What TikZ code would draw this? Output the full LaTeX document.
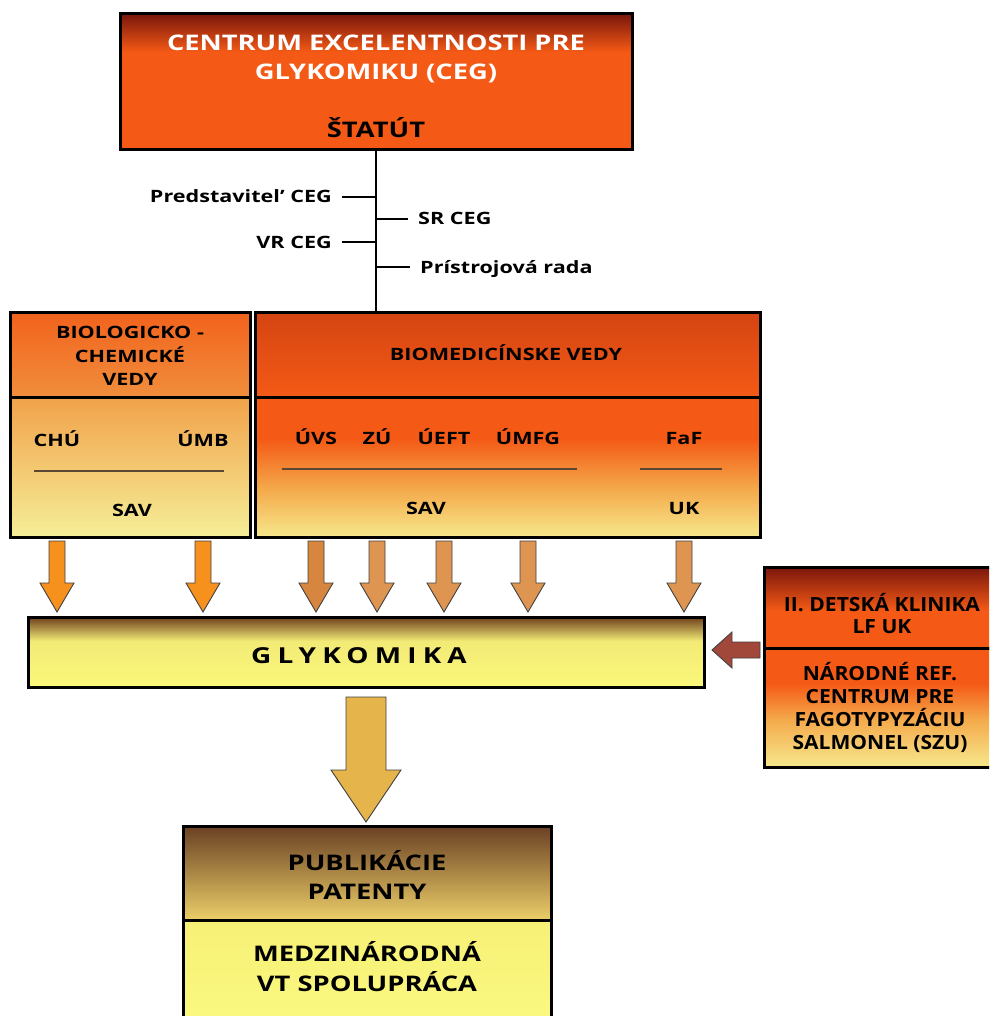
\documentclass[tikz,border=0pt]{standalone}
\usepackage{fontspec}
\setmainfont{Open Sans}[FakeStretch=1.27]
\newfontfamily\narrowfont[FakeStretch=1.08]{Open Sans}
\newfontfamily\spacedfont[FakeStretch=1.27, LetterSpace=28]{Open Sans}
\usetikzlibrary{positioning,calc}

\definecolor{cegorange}{RGB}{244,90,22}
\definecolor{cegdark}{RGB}{122,22,12}
\definecolor{biohdtop}{RGB}{242,98,28}
\definecolor{biohdbot}{RGB}{240,142,60}
\definecolor{biolotop}{RGB}{240,162,74}
\definecolor{biolobot}{RGB}{246,238,152}
\definecolor{medhdtop}{RGB}{212,68,18}
\definecolor{paleyel}{RGB}{247,232,140}
\definecolor{midorange}{RGB}{244,170,75}
\definecolor{glykbrown}{RGB}{108,62,28}
\definecolor{glykyel}{RGB}{242,234,118}
\definecolor{glykbot}{RGB}{251,248,122}
\definecolor{pubtop}{RGB}{106,64,36}
\definecolor{pubbot}{RGB}{236,206,104}
\definecolor{medztop}{RGB}{247,240,118}
\definecolor{medzbot}{RGB}{250,249,128}
\definecolor{arrbright}{RGB}{247,145,30}
\definecolor{arrtan}{RGB}{223,149,82}
\definecolor{arrdark}{RGB}{214,134,62}
\definecolor{arrred}{RGB}{162,72,58}
\definecolor{arrgold}{RGB}{229,180,75}
\definecolor{rulebrown}{RGB}{90,70,50}

\pgfdeclareverticalshading{cegshade}{100bp}{color(0bp)=(cegorange); color(61bp)=(cegorange); color(75bp)=(cegdark); color(100bp)=(cegdark)}
\pgfdeclareverticalshading{medlowshade}{100bp}{color(0bp)=(paleyel); color(25bp)=(paleyel); color(42bp)=(midorange); color(60bp)=(cegorange); color(100bp)=(cegorange)}
\pgfdeclareverticalshading{glykshade}{100bp}{color(0bp)=(glykbot); color(25bp)=(glykbot); color(58bp)=(glykyel); color(75bp)=(glykbrown); color(100bp)=(glykbrown)}
\pgfdeclareverticalshading{detshade}{100bp}{color(0bp)=(cegorange); color(48bp)=(cegorange); color(75bp)=(cegdark); color(100bp)=(cegdark)}
\pgfdeclareverticalshading{narshade}{100bp}{color(0bp)=(paleyel); color(25bp)=(paleyel); color(45bp)=(midorange); color(60bp)=(cegorange); color(100bp)=(cegorange)}

\tikzstyle{orgbox}=[rectangle, draw=black, line width=3pt, outer sep=0pt, inner sep=0pt]
\tikzstyle{pline}=[-, line width=2.5pt]
\tikzstyle{rule}=[-, line width=1.2pt, draw=rulebrown]
\tikzstyle{blockarrow}=[draw=black!75, line width=0.9pt, line join=miter]
\tikzstyle{lbl}=[font=\bfseries\fontsize{17}{20}\selectfont, text height=12pt, text depth=0pt, inner xsep=10pt, inner ysep=2pt]
\tikzstyle{paneltxt}=[font=\bfseries\fontsize{17}{23.5}\selectfont, align=center, text height=12pt, text depth=0pt, inner sep=2pt]
\tikzstyle{bigtxt}=[font=\bfseries\fontsize{21.5}{29.5}\selectfont, align=center, inner sep=2pt]
\tikzstyle{cliniktxt}=[font=\narrowfont\bfseries\fontsize{19.5}{23}\selectfont, align=center, inner sep=2pt]

\begin{document}
\begin{tikzpicture}[x=1pt, y=-1pt, node distance=0pt]
\useasboundingbox (0,0) rectangle (989,1016);
\clip (0,0) rectangle (989,1016);

% CEG and statute
\node (CEG) [orgbox, shading=cegshade, minimum width=512pt, minimum height=136pt] at (376,82) {};
\node (CEGTXT) [bigtxt, text=white] at (376,59) {CENTRUM EXCELENTNOSTI PRE\\GLYKOMIKU (CEG)};
\node (STATUT) [bigtxt, text height=15pt, text depth=0pt] at (376,130) {ŠTATÚT};

% the two fields
\node (BIOHEAD) [orgbox, top color=biohdtop, bottom color=biohdbot, minimum width=240pt, minimum height=85pt] at (130,354.5) {};
\node (BIOLOW) [orgbox, top color=biolotop, bottom color=biolobot, minimum width=240pt, minimum height=140pt, below=of BIOHEAD] {};
\node (MEDHEAD) [orgbox, top color=medhdtop, bottom color=cegorange, minimum width=504.5pt, minimum height=85pt, right=5.5pt of BIOHEAD] {};
\node (MEDLOW) [orgbox, shading=medlowshade, minimum width=504.5pt, minimum height=140pt, below=of MEDHEAD] {};

 \draw[pline] (CEG.south) -- (CEG.south |- MEDHEAD.north);

\node (PRED) [lbl, anchor=east] at (342,197) {Predstavitel’ CEG};
\node (VR) [lbl, anchor=east] at (342,242) {VR CEG};
\node (SR) [lbl, anchor=west] at (408,219) {SR CEG};
\node (PRIS) [lbl, anchor=west] at (410,267) {Prístrojová rada};
 \draw[pline] (PRED.east) -- (PRED.east -| CEG.south);
 \draw[pline] (VR.east) -- (VR.east -| CEG.south);
 \draw[pline] (SR.west) -- (SR.west -| CEG.south);
 \draw[pline] (PRIS.west) -- (PRIS.west -| CEG.south);

\node (BIOTXT) [paneltxt, text height=, text depth=] at (130,356) {BIOLOGICKO -\\CHEMICKÉ\\VEDY};
\node (MEDTXT) [paneltxt] at (506,354) {BIOMEDICÍNSKE VEDY};

\node (CHU) [paneltxt] at (57,440) {CHÚ};
\node (UMB) [paneltxt] at (203,440) {ÚMB};
\node (SAVA) [paneltxt] at (132,510) {SAV};
 \draw[rule] (34,471) -- (224,471);

\node (UVS) [paneltxt] at (316,438) {ÚVS};
\node (ZU) [paneltxt] at (377,438) {ZÚ};
\node (UEFT) [paneltxt] at (444,438) {ÚEFT};
\node (UMFG) [paneltxt] at (528,438) {ÚMFG};
\node (FAF) [paneltxt] at (684,438) {FaF};
\node (SAVB) [paneltxt] at (426,508) {SAV};
\node (UK) [paneltxt] at (684,508) {UK};
 \draw[rule] (282,469) -- (577,469);
 \draw[rule] (640,469) -- (722,469);

% glycomics
\node (GLYK) [orgbox, shading=glykshade, minimum width=676pt, minimum height=70pt] at (366,652) {};
\node (GLYKTXT) [font=\spacedfont\bfseries\fontsize{22}{26}\selectfont, text height=16pt, text depth=0pt] at (359,655) {GLYKOMIKA};

\foreach \col/\fc in {CHU/arrbright, UMB/arrbright, UVS/arrdark, ZU/arrtan, UEFT/arrtan, UMFG/arrtan, FAF/arrtan}
 \draw[blockarrow, fill=\fc] let \p1=(\col |- BIOLOW.south), \p2=(\col |- GLYK.north) in
  (\x1-8pt,\y1-4pt) -- (\x1+8pt,\y1-4pt) -- (\x1+8pt,\y2+34pt) -- (\x1+17pt,\y2+34pt)
  -- (\x1,\y2+5pt) -- (\x1-17pt,\y2+34pt) -- (\x1-8pt,\y2+34pt) -- cycle;

% clinic
\node (DETSKA) [orgbox, shading=detshade, minimum width=260pt, minimum height=81pt] at (894,607.5) {};
\node (NARODNE) [orgbox, shading=narshade, minimum width=260pt, minimum height=119pt, below=of DETSKA] {};
\node (DETTXT) [cliniktxt, font=\narrowfont\bfseries\fontsize{19.5}{22}\selectfont] at (882,614) {II. DETSKÁ KLINIKA\\LF UK};
\node (NARTXT) [cliniktxt] at (880,707) {NÁRODNÉ REF.\\CENTRUM PRE\\FAGOTYPYZÁCIU\\SALMONEL (SZU)};

\draw[blockarrow, fill=arrred] let \p1=(DETSKA.west |- GLYK.center), \p2=(GLYK.east) in
  (\x1-4pt,\y1+10pt) -- (\x2+28pt,\y1+10pt) -- (\x2+28pt,\y1+20pt) -- (\x2+8pt,\y1+2pt)
  -- (\x2+28pt,\y1-16pt) -- (\x2+28pt,\y1-6pt) -- (\x1-4pt,\y1-6pt) -- cycle;

% results
\node (PUB) [orgbox, top color=pubtop, bottom color=pubbot, minimum width=368pt, minimum height=94pt] at (367,873) {};
\node (MEDZ) [orgbox, top color=medztop, bottom color=medzbot, minimum width=368pt, minimum height=102pt, below=of PUB] {};
\node (PUBTXT) [bigtxt] at (367,875) {PUBLIKÁCIE\\PATENTY};
\node (MEDZTXT) [bigtxt] at (367,966.5) {MEDZINÁRODNÁ\\VT SPOLUPRÁCA};

\draw[blockarrow, fill=arrgold] let \p1=(GLYK.south), \p2=(PUB.north) in
  (\x1-20pt,\y1-10pt) -- (\x1+20pt,\y1-10pt) -- (\x1+20pt,\y2+56pt) -- (\x1+35pt,\y2+56pt)
  -- (\x1,\y2+4pt) -- (\x1-35pt,\y2+56pt) -- (\x1-20pt,\y2+56pt) -- cycle;

\end{tikzpicture}
\end{document}
